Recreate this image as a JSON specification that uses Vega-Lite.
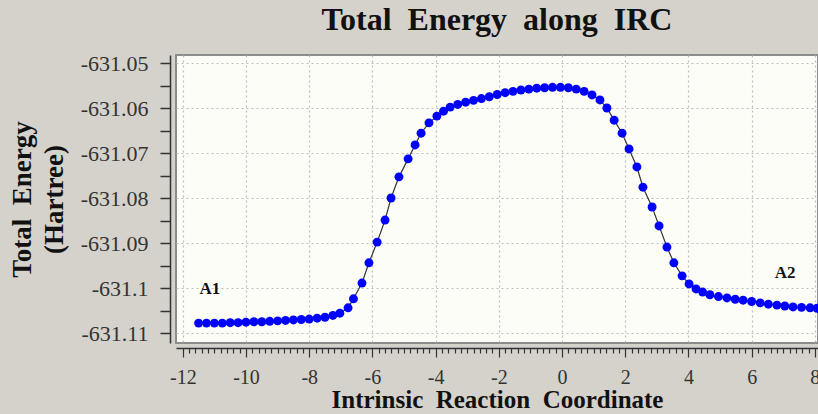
{
  "$schema": "https://vega.github.io/schema/vega-lite/v6.json",
  "autosize": {"type": "none"},
  "padding": {"left": 176, "top": 55, "right": 0, "bottom": 71},
  "width": 642,
  "height": 288,
  "background": "#d5d2cc",
  "title": {
    "text": "Total \u00a0Energy \u00a0along \u00a0IRC",
    "font": "Liberation Serif",
    "fontSize": 32,
    "fontWeight": "bold",
    "color": "#111111",
    "anchor": "middle",
    "frame": "group",
    "offset": 15
  },
  "config": {
    "view": {"fill": "#fdfdf8", "stroke": "#8c8c8c", "strokeWidth": 2},
    "font": "Liberation Serif"
  },
  "datasets": {
    "irc": [
      {"x": -11.5, "y": -631.1078}, {"x": -11.25, "y": -631.1078}, {"x": -11.0, "y": -631.1078},
      {"x": -10.75, "y": -631.1078}, {"x": -10.5, "y": -631.1077}, {"x": -10.25, "y": -631.1077},
      {"x": -10.0, "y": -631.1076}, {"x": -9.75, "y": -631.1075}, {"x": -9.5, "y": -631.1075},
      {"x": -9.25, "y": -631.1074}, {"x": -9.0, "y": -631.1073}, {"x": -8.75, "y": -631.1072},
      {"x": -8.5, "y": -631.1071}, {"x": -8.25, "y": -631.107}, {"x": -8.0, "y": -631.1069},
      {"x": -7.75, "y": -631.1067}, {"x": -7.5, "y": -631.1065}, {"x": -7.25, "y": -631.1061},
      {"x": -7.03, "y": -631.1056}, {"x": -6.77, "y": -631.1044}, {"x": -6.6, "y": -631.1024},
      {"x": -6.33, "y": -631.0989}, {"x": -6.11, "y": -631.0944}, {"x": -5.85, "y": -631.0898},
      {"x": -5.6, "y": -631.0849}, {"x": -5.41, "y": -631.08}, {"x": -5.16, "y": -631.0753},
      {"x": -4.87, "y": -631.0713}, {"x": -4.65, "y": -631.0682}, {"x": -4.46, "y": -631.0656},
      {"x": -4.21, "y": -631.0633}, {"x": -3.96, "y": -631.0618}, {"x": -3.75, "y": -631.0607},
      {"x": -3.54, "y": -631.0598}, {"x": -3.3, "y": -631.0592}, {"x": -3.05, "y": -631.0587},
      {"x": -2.8, "y": -631.0583}, {"x": -2.55, "y": -631.0579}, {"x": -2.3, "y": -631.0575},
      {"x": -2.05, "y": -631.057}, {"x": -1.8, "y": -631.0566}, {"x": -1.55, "y": -631.0563},
      {"x": -1.3, "y": -631.056}, {"x": -1.05, "y": -631.0558}, {"x": -0.8, "y": -631.0556},
      {"x": -0.55, "y": -631.0555}, {"x": -0.3, "y": -631.0554}, {"x": -0.05, "y": -631.0554},
      {"x": 0.2, "y": -631.0555}, {"x": 0.45, "y": -631.0558}, {"x": 0.7, "y": -631.0563},
      {"x": 0.95, "y": -631.0571}, {"x": 1.2, "y": -631.0582}, {"x": 1.42, "y": -631.06},
      {"x": 1.65, "y": -631.0627}, {"x": 1.9, "y": -631.0656}, {"x": 2.12, "y": -631.0691},
      {"x": 2.37, "y": -631.0731}, {"x": 2.56, "y": -631.0776}, {"x": 2.85, "y": -631.082},
      {"x": 3.07, "y": -631.0862}, {"x": 3.32, "y": -631.0909}, {"x": 3.54, "y": -631.0944},
      {"x": 3.8, "y": -631.0973}, {"x": 4.02, "y": -631.0991}, {"x": 4.24, "y": -631.1002},
      {"x": 4.45, "y": -631.1009}, {"x": 4.68, "y": -631.1015}, {"x": 4.95, "y": -631.1019},
      {"x": 5.22, "y": -631.1022}, {"x": 5.48, "y": -631.1025}, {"x": 5.73, "y": -631.1027},
      {"x": 6.0, "y": -631.103}, {"x": 6.27, "y": -631.1033}, {"x": 6.53, "y": -631.1036},
      {"x": 6.8, "y": -631.1038}, {"x": 7.05, "y": -631.104}, {"x": 7.31, "y": -631.1042},
      {"x": 7.58, "y": -631.1043}, {"x": 7.85, "y": -631.1044}, {"x": 8.07, "y": -631.1045}
    ],
    "labels": [
      {"x": -11.14, "y": -631.1002, "label": "A1"},
      {"x": 7.06, "y": -631.0967, "label": "A2"}
    ]
  },
  "encoding": {
    "x": {
      "field": "x",
      "type": "quantitative",
      "scale": {"domain": [-12.215, 8.1], "nice": false, "zero": false},
      "axis": {
        "title": "Intrinsic \u00a0Reaction \u00a0Coordinate",
        "titleFont": "Liberation Serif",
        "titleFontSize": 25,
        "titleFontWeight": "bold",
        "titleColor": "#111111",
        "titlePadding": 0,
        "values": [-12, -11.8, -11.6, -11.4, -11.2, -11, -10.8, -10.6, -10.4, -10.2, -10, -9.8, -9.6, -9.4, -9.2, -9, -8.8, -8.6, -8.4, -8.2, -8, -7.8, -7.6, -7.4, -7.2, -7, -6.8, -6.6, -6.4, -6.2, -6, -5.8, -5.6, -5.4, -5.2, -5, -4.8, -4.6, -4.4, -4.2, -4, -3.8, -3.6, -3.4, -3.2, -3, -2.8, -2.6, -2.4, -2.2, -2, -1.8, -1.6, -1.4, -1.2, -1, -0.8, -0.6, -0.4, -0.2, 0, 0.2, 0.4, 0.6, 0.8, 1, 1.2, 1.4, 1.6, 1.8, 2, 2.2, 2.4, 2.6, 2.8, 3, 3.2, 3.4, 3.6, 3.8, 4, 4.2, 4.4, 4.6, 4.8, 5, 5.2, 5.4, 5.6, 5.8, 6, 6.2, 6.4, 6.6, 6.8, 7, 7.2, 7.4, 7.6, 7.8, 8],
        "offset": 5,
        "domainColor": "#333333",
        "domainWidth": 1.5,
        "tickColor": "#333333",
        "tickWidth": 1.2,
        "tickSize": {"condition": {"test": "abs(datum.value/2 - round(datum.value/2)) < 0.01", "value": 9}, "value": 5},
        "labelExpr": "abs(datum.value/2 - round(datum.value/2)) < 0.01 ? '' + round(datum.value) : ''",
        "labelFont": "Liberation Serif",
        "labelFontSize": 20,
        "labelColor": "#333333",
        "labelPadding": 10,
        "labelFlush": false,
        "labelOverlap": false,
        "grid": true,
        "gridColor": "#bdbdbd",
        "gridDash": [2, 3],
        "gridWidth": 1.2,
        "gridOpacity": {"condition": {"test": "abs(datum.value/2 - round(datum.value/2)) < 0.01", "value": 1}, "value": 0}
      }
    },
    "y": {
      "field": "y",
      "type": "quantitative",
      "scale": {"domain": [-631.11222, -631.04822], "nice": false, "zero": false},
      "axis": {
        "title": ["Total \u00a0Energy", "(Hartree)"],
        "titleFont": "Liberation Serif",
        "titleFontSize": 27,
        "titleFontWeight": "bold",
        "titleColor": "#111111",
        "titleLineHeight": 32,
        "titlePadding": 12,
        "values": [-631.11, -631.105, -631.1, -631.095, -631.09, -631.085, -631.08, -631.075, -631.07, -631.065, -631.06, -631.055, -631.05],
        "offset": 6,
        "domainColor": "#333333",
        "domainWidth": 1.5,
        "tickColor": "#333333",
        "tickWidth": 1.5,
        "tickSize": 10,
        "labelExpr": "abs(datum.value*100 - round(datum.value*100)) < 0.01 ? '' + datum.value : ''",
        "labelFont": "Liberation Serif",
        "labelFontSize": 22,
        "labelColor": "#333333",
        "labelPadding": 12,
        "labelOverlap": false,
        "grid": true,
        "gridColor": "#bdbdbd",
        "gridDash": [2, 3],
        "gridWidth": 1.2,
        "gridOpacity": {"condition": {"test": "abs(datum.value*100 - round(datum.value*100)) < 0.01", "value": 1}, "value": 0}
      }
    }
  },
  "layer": [
    {
      "data": {"name": "irc"},
      "mark": {"type": "line", "color": "#333333", "strokeWidth": 1.2}
    },
    {
      "data": {"name": "irc"},
      "mark": {"type": "circle", "color": "#0000ff", "size": 80, "opacity": 1}
    },
    {
      "data": {"name": "labels"},
      "mark": {"type": "text", "font": "Liberation Serif", "fontSize": 17, "fontWeight": "bold", "color": "#111111"},
      "encoding": {"text": {"field": "label"}}
    }
  ]
}
